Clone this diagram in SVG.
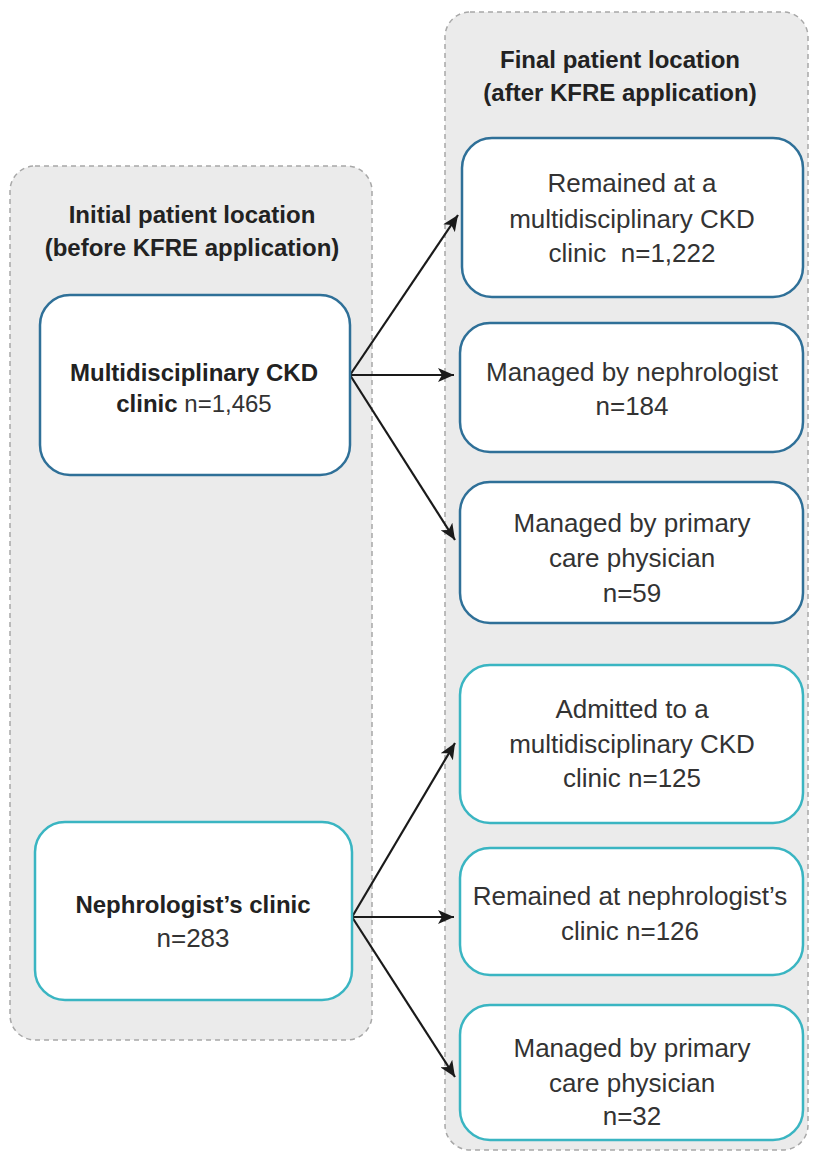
<svg xmlns="http://www.w3.org/2000/svg" width="815" height="1155" viewBox="0 0 815 1155">
<style>
.panel{fill:#ebebeb;stroke:#a8a8a8;stroke-width:1.5;stroke-dasharray:5 4}
.dark{fill:#fff;stroke:#2f7098;stroke-width:2.5}
.teal{fill:#fff;stroke:#3ab5c2;stroke-width:2.5}
text{font-family:"Liberation Sans",Arial,sans-serif;text-anchor:middle;fill:#333;font-size:26px}
.b{font-weight:bold;fill:#222}
.t{font-weight:bold;fill:#222;font-size:24px}
.n{font-size:24px}
.c{stroke:#1a1a1a;stroke-width:2.2;fill:none;marker-end:url(#ah)}
</style>
<defs>
<marker id="ah" markerWidth="18" markerHeight="14" refX="16" refY="7" orient="auto" markerUnits="userSpaceOnUse">
<path d="M0,0 L16,7 L0,14 L4,7 Z" fill="#1a1a1a"/>
</marker>
</defs>
<g id="panel-initial">
<rect class="panel" x="10" y="166" width="362" height="874" rx="25"/>
<text class="t" x="192" y="223">Initial patient location</text>
<text class="t" x="192" y="256">(before KFRE application)</text>
</g>
<g id="panel-final">
<rect class="panel" x="445" y="12" width="363" height="1138" rx="25"/>
<text class="t" x="620" y="68">Final patient location</text>
<text class="t" x="620" y="101">(after KFRE application)</text>
</g>
<g id="connectors">
<line class="c" x1="350" y1="375" x2="458" y2="215"/>
<line class="c" x1="350" y1="375" x2="454" y2="375"/>
<line class="c" x1="350" y1="375" x2="455" y2="540"/>
<line class="c" x1="352" y1="917" x2="455" y2="743"/>
<line class="c" x1="352" y1="917" x2="454" y2="917"/>
<line class="c" x1="352" y1="917" x2="455" y2="1077"/>
</g>
<g id="node-mdc">
<rect class="dark" x="40" y="295" width="310" height="180" rx="30"/>
<text class="n" x="194" y="381"><tspan class="b">Multidisciplinary CKD</tspan></text>
<text class="n" x="194" y="412"><tspan class="b">clinic</tspan> n=1,465</text>
</g>
<g id="node-neph">
<rect class="teal" x="35" y="822" width="317" height="178" rx="30"/>
<text class="n b" x="193" y="913">Nephrologist’s clinic</text>
<text x="193" y="947">n=283</text>
</g>
<g id="node-r1">
<rect class="dark" x="462" y="138" width="341" height="159" rx="30"/>
<text x="632" y="192">Remained at a</text>
<text x="632" y="228">multidisciplinary CKD</text>
<text x="632" y="262">clinic&#160; n=1,222</text>
</g>
<g id="node-r2">
<rect class="dark" x="460" y="323" width="343" height="129" rx="30"/>
<text x="632" y="381">Managed by nephrologist</text>
<text x="632" y="415">n=184</text>
</g>
<g id="node-r3">
<rect class="dark" x="460" y="482" width="343" height="141" rx="30"/>
<text x="632" y="532">Managed by primary</text>
<text x="632" y="567">care physician</text>
<text x="632" y="602">n=59</text>
</g>
<g id="node-r4">
<rect class="teal" x="460" y="665" width="343" height="158" rx="30"/>
<text x="632" y="718">Admitted to a</text>
<text x="632" y="753">multidisciplinary CKD</text>
<text x="632" y="787">clinic n=125</text>
</g>
<g id="node-r5">
<rect class="teal" x="460" y="848" width="343" height="127" rx="30"/>
<text x="630" y="905">Remained at nephrologist’s</text>
<text x="630" y="940">clinic n=126</text>
</g>
<g id="node-r6">
<rect class="teal" x="460" y="1005" width="343" height="135" rx="30"/>
<text x="632" y="1057">Managed by primary</text>
<text x="632" y="1092">care physician</text>
<text x="632" y="1125">n=32</text>
</g>
</svg>
